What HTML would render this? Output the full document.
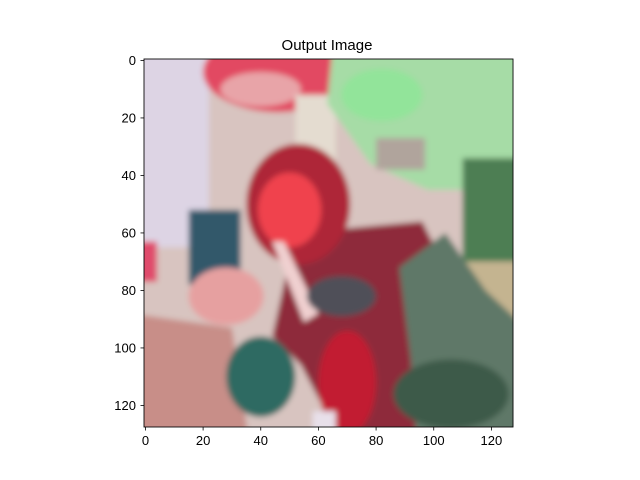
<!DOCTYPE html>
<html><head><meta charset="utf-8"><style>
html,body{margin:0;padding:0;background:#fff;}
svg{display:block;font-family:"Liberation Sans","DejaVu Sans",sans-serif;}
</style></head><body>
<svg id="chart" width="640" height="480" viewBox="0 0 640 480" xmlns="http://www.w3.org/2000/svg">
<defs>
<filter id="bl" x="-10%" y="-10%" width="120%" height="120%"><feGaussianBlur stdDeviation="1.0"/></filter>
<clipPath id="cp"><rect x="-0.5" y="-0.5" width="128" height="128"/></clipPath>
</defs>
<text x="327" y="50" font-size="15" text-anchor="middle">Output Image</text>
<g transform="translate(144,59) scale(2.883,2.875) translate(0.5,0.5)">
<g clip-path="url(#cp)"><g filter="url(#bl)">
<rect x="-5" y="-5" width="140" height="140" fill="#d8c4c0"/>
<rect x="-5" y="-5" width="27" height="70" fill="#ddd4e4"/>
<ellipse cx="46" cy="4" rx="26" ry="14" fill="#e24a62"/>
<ellipse cx="40" cy="10" rx="14" ry="6" fill="#e8a4a8"/>
<rect x="52" y="12" width="14" height="26" fill="#e4dcd0"/>
<polygon points="65,-5 133,-5 133,45 98,45 78,36 63,15" fill="#a6dca6"/>
<ellipse cx="82" cy="12" rx="14" ry="9" fill="#92e49a"/>
<rect x="80" y="27" width="17" height="11" fill="#b0a49c"/>
<rect x="110" y="34" width="22" height="36" fill="#4e7e52"/>
<rect x="110" y="70" width="20" height="28" fill="#c4b490"/>
<rect x="-5" y="63" width="9" height="14" fill="#e04c6c"/>
<polygon points="-5,88 30,93 36,133 -5,133" fill="#c88e88"/>
<polygon points="52,60 96,56 108,80 102,133 68,133 54,106 44,96" fill="#8e2a3a"/>
<polygon points="88,72 104,60 118,80 133,94 133,133 94,133 92,104" fill="#5e7868"/>
<ellipse cx="106" cy="116" rx="20" ry="12" fill="#3e5a48"/>
<ellipse cx="53" cy="50" rx="18" ry="21" fill="#ae2838"/>
<ellipse cx="50" cy="52" rx="11" ry="13" fill="#f0424e"/>
<rect x="15" y="52" width="18" height="26" fill="#30586a"/>
<ellipse cx="28" cy="82" rx="13" ry="10" fill="#e6a0a0"/>
<polygon points="44,63 48,63 60,88 55,91" fill="#f0d0d0"/>
<ellipse cx="68" cy="82" rx="12" ry="7" fill="#505058"/>
<ellipse cx="40" cy="110" rx="12" ry="14" fill="#2e6a62"/>
<ellipse cx="70" cy="112" rx="10" ry="18" fill="#c21e30"/>
<rect x="58" y="122" width="8" height="8" fill="#e8e0ea"/>
</g></g>
<rect x="-0.5" y="-0.5" width="128" height="128" fill="none" stroke="#000" stroke-width="0.3"/>
</g>
<g id="xaxis"></g>
<g id="yaxis"></g>
<script>
var xTicks = [0, 20, 40, 60, 80, 100, 120];
var yTicks = [0, 20, 40, 60, 80, 100, 120];
var ns = "http://www.w3.org/2000/svg";
function xs(v){ return 144 + (v + 0.5) * 2.883; }
function ys(v){ return 59 + (v + 0.5) * 2.875; }
var xa = document.getElementById('xaxis');
xTicks.forEach(function(t){
  var l = document.createElementNS(ns,'line');
  
  
  l.setAttribute('x1',xs(t)); l.setAttribute('x2',xs(t));
  l.setAttribute('y1',427); l.setAttribute('y2',430.5);
  l.setAttribute('stroke','#000'); l.setAttribute('stroke-width','0.8');
  xa.appendChild(l);
  var tx = document.createElementNS(ns,'text');
  
  
  tx.setAttribute('x',xs(t)); tx.setAttribute('y',445);
  tx.setAttribute('font-size','13'); tx.setAttribute('text-anchor','middle');
  tx.textContent = t;
  xa.appendChild(tx);
});
var ya = document.getElementById('yaxis');
yTicks.forEach(function(t){
  var l = document.createElementNS(ns,'line');
  
  
  l.setAttribute('x1',140.5); l.setAttribute('x2',144);
  l.setAttribute('y1',ys(t)); l.setAttribute('y2',ys(t));
  l.setAttribute('stroke','#000'); l.setAttribute('stroke-width','0.8');
  ya.appendChild(l);
  var tx = document.createElementNS(ns,'text');
  
  
  tx.setAttribute('x',136); tx.setAttribute('y',ys(t)+4.5);
  tx.setAttribute('font-size','13'); tx.setAttribute('text-anchor','end');
  tx.textContent = t;
  ya.appendChild(tx);
});
</script>
</svg>
</body></html>
